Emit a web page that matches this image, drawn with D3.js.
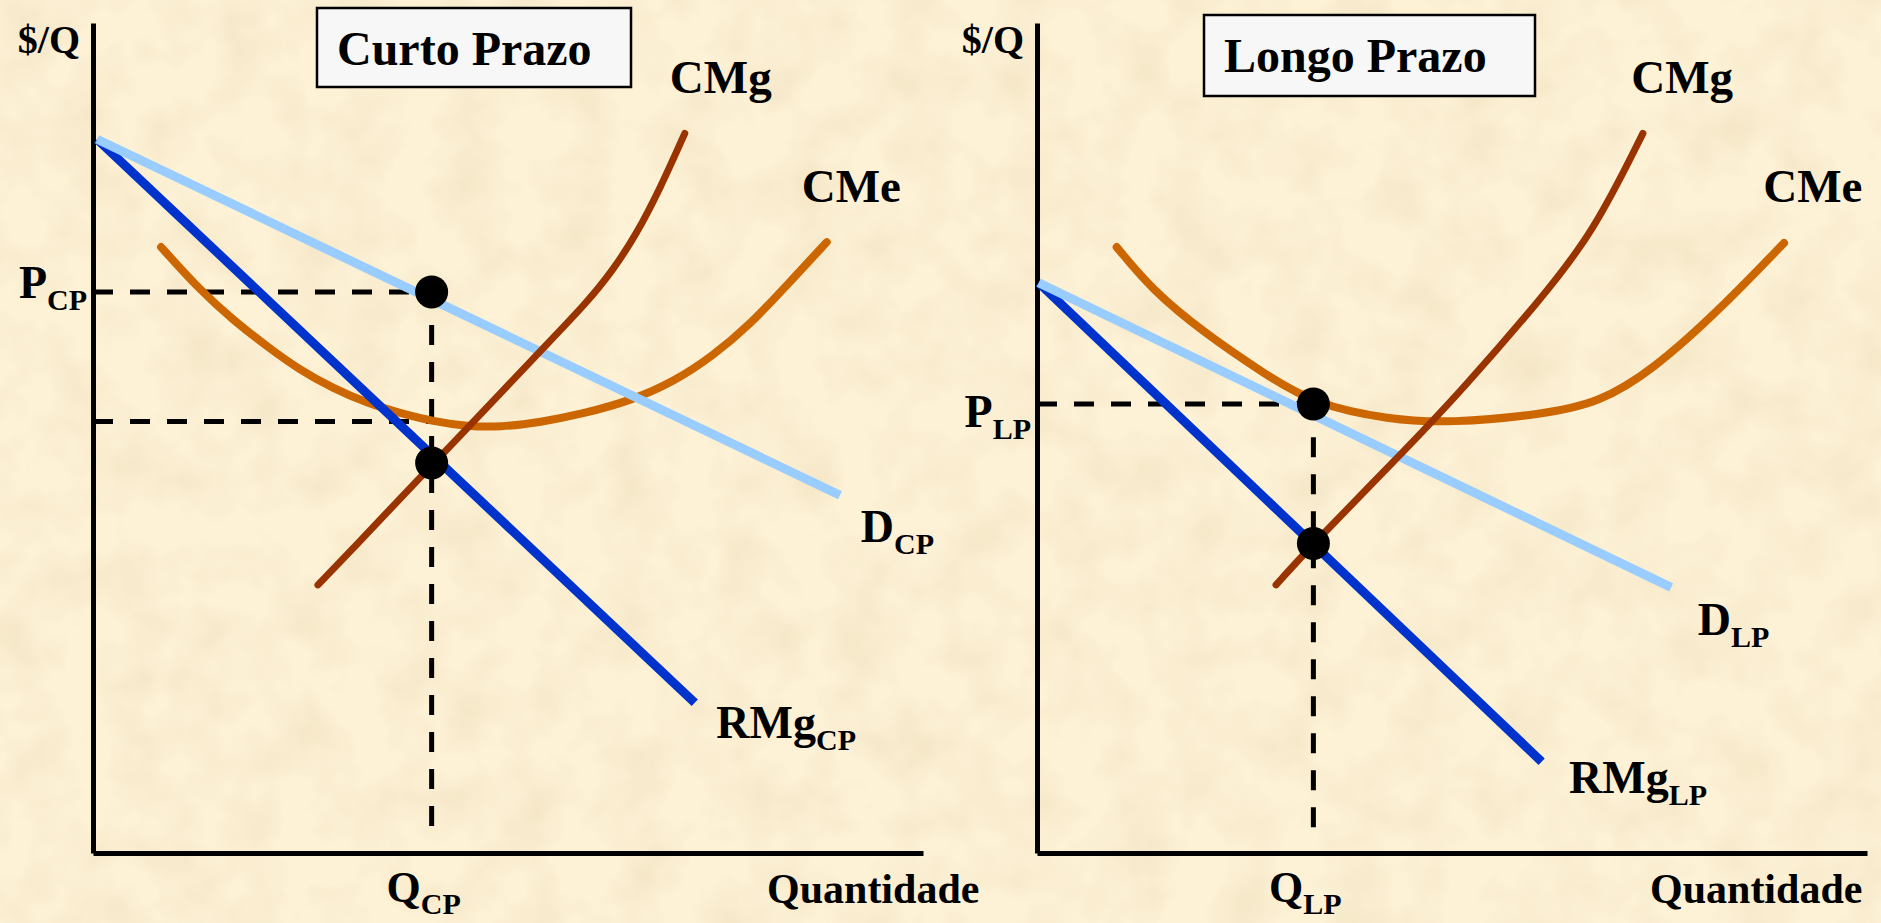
<!doctype html>
<meta charset="utf-8">

<style>
 body { margin: 0; background: #fcefd2; }
 svg text {
     font-family: "Liberation Serif", "Times New Roman", serif;
     font-weight: bold;
     fill: #000;
 }
 .axis path { stroke: #000; stroke-width: 5px; }
 .dash { stroke: #000; stroke-width: 5px; stroke-dasharray: 20 17; fill: none; }
 .curve { fill: none; }
</style>

<svg width="1881" height="923"></svg>

<script src="https://d3js.org/d3.v7.min.js"></script>
<script>
 // Curto prazo (short run)
 var cmeCP = [[8.2, 73.0], [12.9, 67.8], [16.9, 64.2], [21.0, 61.0], [24.9, 58.2],
              [28.9, 56.0], [33.0, 54.2], [37.0, 53.0], [41.0, 52.0], [45.1, 51.4],
              [49.0, 51.3], [53.9, 51.9], [59.0, 52.9], [65.1, 54.6], [70.0, 56.8],
              [74.7, 59.9], [79.2, 63.7], [83.5, 68.3], [88.4, 73.6]];
 var cmgCP = [[27.1, 32.3], [32.0, 37.4], [37.0, 42.7], [41.0, 46.9], [45.1, 51.2],
              [49.0, 55.3], [54.2, 60.8], [59.5, 66.3], [62.7, 70.3], [65.5, 74.6],
              [68.3, 80.0], [71.3, 86.7]];
 var demandCP = [[0.5, 86.0], [90.0, 43.1]];
 var rmgCP = [[0.5, 86.0], [72.5, 18.1]];
 var qCP = 40.8, pCP = 67.6, cmeAtQCP = 52.0, rmgAtQCP = 47.0;

 // Longo prazo (long run)
 var cmeLP = [[9.6, 73.0], [13.9, 67.8], [20.1, 62.7], [27.3, 57.8], [33.3, 54.1],
              [42.5, 52.2], [49.8, 51.8], [60.6, 52.8], [67.7, 54.2], [74.2, 58.2],
              [82.2, 65.4], [90.0, 73.5]];
 var cmgLP = [[28.8, 32.3], [33.3, 37.3], [44.7, 48.9], [51.2, 55.8], [60.6, 66.6],
              [67.0, 74.7], [73.0, 86.7]];
 var demandLP = [[0.2, 68.7], [76.4, 32.0]];
 var rmgLP = [[0.2, 68.7], [60.8, 11.0]];
 var qLP = 33.3, pLP = 54.1, rmgAtQLP = 37.3;

 var svg = d3.select('svg');

 // parchment background
 var defs = svg.append('defs');
 var f = defs.append('filter').attr('id', 'paper').attr('x', 0).attr('y', 0)
             .attr('width', '100%').attr('height', '100%');
 f.append('feTurbulence').attr('type', 'fractalNoise')
  .attr('baseFrequency', 0.018).attr('numOctaves', 3).attr('seed', 4);
 f.append('feColorMatrix').attr('type', 'matrix')
  .attr('values', '0 0 0 0 0.6  0 0 0 0 0.45  0 0 0 0 0.2  0 0 0 -0.9 0.55');
 svg.append('rect').attr('width', 1881).attr('height', 923).attr('fill', '#fdf1d6');
 svg.append('rect').attr('width', 1881).attr('height', 923).attr('filter', 'url(#paper)').attr('opacity', 0.35);

 var line = d3.line().curve(d3.curveBasis);
 var straight = d3.line();

 function panel(o) {
   var x = d3.scaleLinear().domain([0, 100]).range([o.left, o.left + 830]);
   var y = d3.scaleLinear().domain([0, 100]).range([853, 23]);
   var g = svg.append('g');
   var pt = function(d) { return [x(d[0]), y(d[1])]; };

   // axes without ticks
   g.append('g').attr('class', 'axis').attr('transform', 'translate(' + o.left + ',0)')
    .call(d3.axisLeft(y).ticks(0).tickSizeOuter(0));
   g.append('g').attr('class', 'axis').attr('transform', 'translate(0,853)')
    .call(d3.axisBottom(x).ticks(0).tickSizeOuter(0));

   // guide lines
   g.append('path').attr('class', 'dash')
    .attr('d', straight([[0, o.p], [o.q, o.p]].map(pt)));
   if (o.cmeAtQ != null) {
     g.append('path').attr('class', 'dash')
      .attr('d', straight([[0, o.cmeAtQ], [o.q, o.cmeAtQ]].map(pt)));
   }
   g.append('path').attr('class', 'dash')
    .attr('d', straight([[o.q, o.p - 4], [o.q, 1.8]].map(pt)));

   // curves
   g.append('path').attr('class', 'curve').attr('stroke', '#cc6600').attr('stroke-width', 8)
    .attr('stroke-linecap', 'round').attr('d', line(o.cme.map(pt)));
   g.append('path').attr('class', 'curve').attr('stroke', '#0033cc').attr('stroke-width', 9)
    .attr('d', straight(o.rmg.map(pt)));
   g.append('path').attr('class', 'curve').attr('stroke', '#99ccff').attr('stroke-width', 9)
    .attr('d', straight(o.demand.map(pt)));
   g.append('path').attr('class', 'curve').attr('stroke', '#993300').attr('stroke-width', 7)
    .attr('stroke-linecap', 'round').attr('d', line(o.cmg.map(pt)));

   // equilibrium points
   g.selectAll('circle').data([[o.q, o.p], [o.q, o.rmgAtQ]]).join('circle')
    .attr('cx', function(d) { return x(d[0]); })
    .attr('cy', function(d) { return y(d[1]); })
    .attr('r', 16.5).attr('fill', '#000');

   // title box
   g.append('rect').attr('x', o.box[0]).attr('y', o.box[1]).attr('width', o.box[2]).attr('height', o.box[3])
    .attr('fill', '#f7f7f7').attr('stroke', '#000').attr('stroke-width', 2.5);
   g.append('text').attr('x', o.box[0] + 20).attr('y', o.box[1] + 57)
    .style('font-size', '48px').text(o.title);

   function label(tx, ty, main, sub, size, anchor) {
     var t = g.append('text').attr('x', tx).attr('y', ty)
              .attr('text-anchor', anchor || 'start').style('font-size', size + 'px');
     t.append('tspan').text(main);
     if (sub) t.append('tspan').attr('dy', 12).style('font-size', '30px').text(sub);
   }

   label(o.left - 13, 53, '$/Q', null, 40, 'end');
   label(x(o.cmgLabel[0]), y(o.cmgLabel[1]), 'CMg', null, 47);
   label(x(o.cmeLabel[0]), y(o.cmeLabel[1]), 'CMe', null, 47);
   label(x(o.dLabel[0]), y(o.dLabel[1]), 'D', o.key, 46);
   label(x(o.rLabel[0]), y(o.rLabel[1]), 'RMg', o.key, 46);
   label(o.left - 6, y(o.p) + o.pOffset, 'P', o.key, 46, 'end');
   label(x(o.q) - 8, 902, 'Q', o.key, 44, 'middle');
   label(o.quantX, 903, 'Quantidade', null, 42);
 }

 panel({
   key: 'CP', title: 'Curto Prazo', left: 93,
   cme: cmeCP, cmg: cmgCP, demand: demandCP, rmg: rmgCP,
   q: qCP, p: pCP, cmeAtQ: cmeAtQCP, rmgAtQ: rmgAtQCP,
   box: [317, 8, 314, 79],
   cmgLabel: [69.5, 91.6], cmeLabel: [85.4, 78.4], dLabel: [92.5, 37.5], rLabel: [75.1, 13.9],
   pOffset: 6, quantX: 767
 });

 panel({
   key: 'LP', title: 'Longo Prazo', left: 1037,
   cme: cmeLP, cmg: cmgLP, demand: demandLP, rmg: rmgLP,
   q: qLP, p: pLP, cmeAtQ: null, rmgAtQ: rmgAtQLP,
   box: [1204, 15, 331, 81],
   cmgLabel: [71.6, 91.6], cmeLabel: [87.5, 78.4], dLabel: [79.6, 26.3], rLabel: [64.1, 7.2],
   pOffset: 23, quantX: 1650
 });
</script>
